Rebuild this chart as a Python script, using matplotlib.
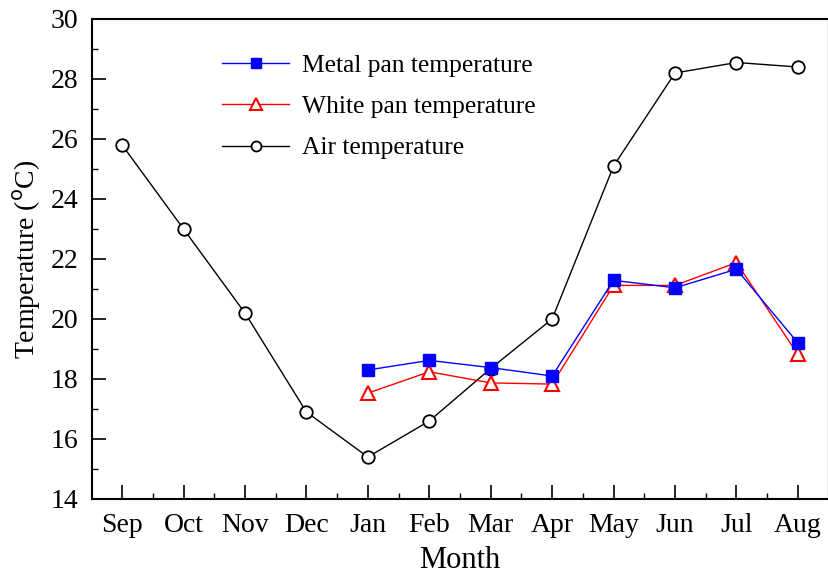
import matplotlib
matplotlib.use("Agg")
import matplotlib.pyplot as plt
from matplotlib.ticker import MultipleLocator

months = ["Sep", "Oct", "Nov", "Dec", "Jan", "Feb", "Mar", "Apr", "May", "Jun", "Jul", "Aug"]
air_temp = [25.8, 23.0, 20.2, 16.9, 15.4, 16.6, 18.35, 20.0, 25.1, 28.2, 28.55, 28.4]
metal_months = ["Jan", "Feb", "Mar", "Apr", "May", "Jun", "Jul", "Aug"]
metal_temp = [18.3, 18.62, 18.38, 18.1, 21.29, 21.04, 21.66, 19.2]
white_temp = [17.53, 18.24, 17.87, 17.83, 21.12, 21.12, 21.88, 18.82]

plt.rcParams['font.family'] = ['Liberation Serif', 'DejaVu Serif']

fig = plt.figure(figsize=(8.29, 5.77), dpi=100)
ax = fig.add_axes([92/829, 1 - 499/577, (828-92)/829, (499-19)/577])

x_all = list(range(len(months)))
x_pan = [months.index(m) for m in metal_months]

ax.plot(x_pan, metal_temp, color='blue', lw=1, marker='s', ms=9,
        mfc='blue', mec='blue', label='Metal pan temperature', zorder=4)
ax.plot(x_pan, white_temp, color='red', lw=1, marker='^', ms=10,
        mfc='white', mec='red', mew=1.5, label='White pan temperature', zorder=3)
ax.plot(x_all, air_temp, color='black', lw=1, marker='o', ms=9,
        mfc='white', mec='black', mew=1.3, label='Air temperature', zorder=2)

ax.set_xlim(-0.49, 11.49)
ax.set_ylim(14, 30)
ax.set_xticks(x_all)
ax.set_xticklabels(months)
ax.xaxis.set_minor_locator(MultipleLocator(0.5))
ax.yaxis.set_major_locator(MultipleLocator(2))
ax.yaxis.set_minor_locator(MultipleLocator(1))
ax.tick_params(axis='both', which='major', direction='in', length=10, width=1.2,
               labelsize=20, top=False, right=False)
ax.tick_params(axis='both', which='minor', direction='in', length=4, width=1,
               top=False, right=False)
ax.tick_params(axis='x', which='major', pad=10)
ax.tick_params(axis='y', which='major', pad=10)

for s in ['left', 'bottom', 'top']:
    ax.spines[s].set_linewidth(1.5)
    ax.spines[s].set_color('black')
ax.spines['right'].set_color('#bbbbbb')
ax.spines['right'].set_linewidth(1)

ax.set_xlabel('Month', fontsize=22, labelpad=6)
ax.set_ylabel('Temperature ($^{\\rm o}$C)', fontsize=20, labelpad=5)

leg = ax.legend(loc='upper left', bbox_to_anchor=(0.146, 0.975), frameon=False,
                fontsize=18.4, handlelength=2.6, handletextpad=0.5, labelspacing=0.72,
                markerscale=0.8)

fig.savefig('out.png', dpi=100)
